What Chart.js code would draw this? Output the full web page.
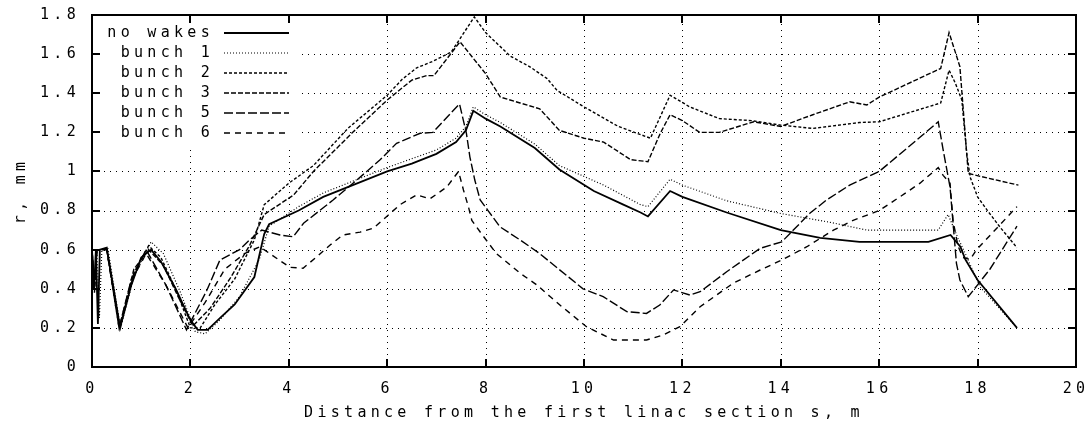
<!DOCTYPE html>
<html>
<head>
<meta charset="utf-8">
<script src="https://cdn.jsdelivr.net/npm/chart.js@4.4.0/dist/chart.umd.min.js"></script>
<style>
  html, body { margin: 0; padding: 0; background: #fff; overflow: hidden; }
  #wrap { width: 1092px; height: 430px; }
</style>
</head>
<body>
<div id="wrap"><canvas id="myChart" width="1092" height="430"></canvas></div>
<script>
// s in m, r in mm
const noWakesS = [0, 0.04, 0.08, 0.12, 0.16, 0.3, 0.57, 0.8, 1.0, 1.2, 1.4, 1.7, 2.0, 2.15, 2.35, 2.6, 2.9, 3.3, 3.5, 3.6, 4.2, 4.7, 5.3, 6.0, 6.5, 7.0, 7.4, 7.6, 7.75, 8.0, 8.3, 9.0, 9.5, 10.2, 10.8, 11.15, 11.3, 11.75, 12.0, 12.9, 14.0, 14.8, 15.6, 16.5, 17.0, 17.45, 17.65, 17.75, 18.0, 18.8];
const noWakesR = [0.6, 0.4, 0.6, 0.22, 0.6, 0.61, 0.2, 0.42, 0.56, 0.6, 0.54, 0.4, 0.24, 0.19, 0.19, 0.25, 0.32, 0.46, 0.68, 0.73, 0.8, 0.87, 0.93, 1.0, 1.04, 1.09, 1.15, 1.21, 1.31, 1.27, 1.23, 1.12, 1.01, 0.9, 0.83, 0.79, 0.77, 0.9, 0.87, 0.79, 0.7, 0.66, 0.64, 0.64, 0.64, 0.675, 0.615, 0.55, 0.445, 0.2];

const bunch1S = [0, 0.05, 0.1, 0.15, 0.2, 0.32, 0.58, 0.85, 1.2, 1.45, 1.8, 2.1, 2.3, 2.6, 3.0, 3.4, 3.6, 4.2, 4.7, 6.0, 7.0, 7.4, 7.6, 7.75, 8.0, 8.3, 9.0, 9.5, 10.4, 11.15, 11.3, 11.75, 12.0, 12.9, 14.0, 15.0, 15.75, 17.2, 17.4, 17.6, 17.75, 18.05, 18.8];
const bunch1R = [0.6, 0.4, 0.6, 0.25, 0.6, 0.61, 0.2, 0.46, 0.64, 0.58, 0.38, 0.18, 0.17, 0.24, 0.36, 0.55, 0.72, 0.82, 0.89, 1.02, 1.11, 1.17, 1.23, 1.33, 1.29, 1.25, 1.14, 1.03, 0.93, 0.83, 0.82, 0.96, 0.93, 0.85, 0.785, 0.74, 0.7, 0.7, 0.78, 0.66, 0.58, 0.41, 0.2];

const bunch2S = [0, 0.05, 0.1, 0.3, 0.57, 0.85, 1.15, 1.4, 1.7, 2.0, 2.2, 2.5, 2.9, 3.3, 3.5, 4.0, 4.5, 5.2, 6.0, 6.3, 6.6, 6.9, 7.3, 7.77, 8.0, 8.5, 8.9, 9.25, 9.45, 10.0, 10.7, 11.35, 11.75, 12.15, 12.75, 13.4, 14.0, 14.65, 15.6, 16.0, 17.25, 17.42, 17.55, 17.68, 17.78, 17.85, 18.0, 18.2, 18.45, 18.8];
const bunch2R = [0.6, 0.42, 0.6, 0.6, 0.2, 0.48, 0.62, 0.56, 0.4, 0.2, 0.2, 0.32, 0.45, 0.65, 0.83, 0.94, 1.03, 1.22, 1.39, 1.47, 1.53, 1.56, 1.61, 1.79, 1.71, 1.59, 1.535, 1.475, 1.415, 1.33, 1.23, 1.17, 1.39, 1.33, 1.27, 1.26, 1.237, 1.22, 1.25, 1.254, 1.35, 1.518, 1.45, 1.365, 1.09, 0.97, 0.87, 0.8, 0.717, 0.61];

const bunch3S = [0, 0.05, 0.1, 0.3, 0.57, 0.85, 1.15, 1.45, 1.75, 2.05, 2.4, 2.8, 3.2, 3.5, 4.1, 4.5, 5.3, 6.0, 6.5, 6.8, 6.95, 7.48, 8.0, 8.3, 8.7, 9.1, 9.5, 10.0, 10.4, 10.95, 11.3, 11.55, 11.75, 12.0, 12.35, 12.75, 13.45, 14.0, 14.65, 15.4, 15.75, 16.0, 17.25, 17.42, 17.64, 17.81, 18.05, 18.83];
const bunch3R = [0.6, 0.38, 0.6, 0.6, 0.2, 0.5, 0.6, 0.52, 0.36, 0.21, 0.3, 0.45, 0.62, 0.78, 0.88, 1.0, 1.2, 1.365, 1.467, 1.49, 1.49, 1.663, 1.5, 1.38, 1.35, 1.32, 1.21, 1.17, 1.15, 1.06, 1.05, 1.195, 1.29, 1.26, 1.2, 1.2, 1.254, 1.23, 1.29, 1.356, 1.34, 1.38, 1.527, 1.71, 1.536, 0.99, 0.975, 0.93];

const bunch5S = [0, 0.05, 0.1, 0.3, 0.55, 0.8, 1.1, 1.5, 1.92, 2.33, 2.6, 3.0, 3.2, 3.45, 3.82, 4.09, 4.3, 4.9, 5.4, 5.85, 6.19, 6.67, 6.93, 7.41, 7.47, 7.61, 7.68, 7.78, 7.89, 8.05, 8.29, 8.7, 9.1, 9.44, 9.98, 10.39, 10.87, 11.27, 11.54, 11.82, 12.15, 12.36, 12.9, 13.58, 14.02, 14.59, 14.93, 15.4, 16.0, 16.76, 17.2, 17.3, 17.44, 17.57, 17.64, 17.81, 18.0, 18.25, 18.45, 18.8];
const bunch5R = [0.6, 0.4, 0.6, 0.6, 0.2, 0.45, 0.6, 0.42, 0.19, 0.39, 0.547, 0.6, 0.65, 0.7, 0.675, 0.666, 0.735, 0.854, 0.96, 1.058, 1.144, 1.195, 1.2, 1.33, 1.345, 1.195, 1.075, 0.956, 0.854, 0.8, 0.717, 0.65, 0.58, 0.51, 0.4, 0.36, 0.283, 0.274, 0.317, 0.394, 0.368, 0.385, 0.487, 0.607, 0.64, 0.786, 0.854, 0.93, 1.0, 1.16, 1.254, 1.11, 0.92, 0.53, 0.445, 0.36, 0.42, 0.5, 0.58, 0.72];

const bunch6S = [0, 0.05, 0.1, 0.3, 0.55, 0.8, 1.1, 1.5, 1.95, 2.3, 2.7, 3.1, 3.41, 4.02, 4.29, 4.57, 4.84, 5.1, 5.45, 5.72, 5.99, 6.26, 6.6, 6.87, 7.21, 7.45, 7.55, 7.65, 7.72, 7.92, 8.22, 8.7, 9.04, 9.31, 9.51, 10.05, 10.6, 11.27, 11.61, 11.95, 12.36, 13.03, 13.58, 14.02, 14.53, 15.07, 15.47, 16.0, 16.42, 16.83, 17.2, 17.3, 17.44, 17.5, 17.6, 17.7, 17.85, 17.98, 18.8];
const bunch6R = [0.6, 0.42, 0.6, 0.6, 0.2, 0.44, 0.58, 0.42, 0.2, 0.33, 0.5, 0.58, 0.615, 0.51, 0.505, 0.564, 0.624, 0.675, 0.69, 0.71, 0.77, 0.83, 0.88, 0.86, 0.92, 1.0, 0.905, 0.82, 0.75, 0.68, 0.58, 0.48, 0.42, 0.36, 0.317, 0.206, 0.138, 0.138, 0.164, 0.206, 0.308, 0.428, 0.496, 0.547, 0.615, 0.7, 0.75, 0.8, 0.87, 0.94, 1.02, 0.98, 0.94, 0.75, 0.62, 0.56, 0.55, 0.6, 0.82];

const xTickLabels = ['0', '2', '4', '6', '8', '10', '12', '14', '16', '18', '20'];
const yTickLabels = ['0', '0.2', '0.4', '0.6', '0.8', '1', '1.2', '1.4', '1.6', '1.8'];

const FONT = "'DejaVu Sans Mono', 'Liberation Mono', monospace";
const SPACING = '4.3px';

function series(label, s, r, dash, width) {
    return {
        label: label,
        data: s.map((v, i) => ({ x: v, y: r[i] })),
        borderColor: '#000',
        borderWidth: width,
        borderDash: dash,
        pointRadius: 0,
        showLine: true,
        fill: false,
        tension: 0
    };
}

// gnuplot-ish wide letter spacing
const spacing = {
    id: 'spacing',
    beforeLayout(chart) { chart.ctx.letterSpacing = SPACING; },
    beforeDraw(chart) { chart.ctx.letterSpacing = SPACING; }
};

// dotted grid, white key box, key, frame with inward ticks
const decor = {
    id: 'decor',
    beforeDatasetsDraw(chart) {
        const ctx = chart.ctx;
        const a = chart.chartArea;
        const x = chart.scales.x;
        const y = chart.scales.y;
        ctx.save();
        ctx.strokeStyle = '#000';
        ctx.lineWidth = 1;
        ctx.setLineDash([1, 5]);
        ctx.beginPath();
        x.ticks.forEach(t => {
            const px = Math.round(x.getPixelForValue(t.value)) + 0.5;
            ctx.moveTo(px, a.bottom);
            ctx.lineTo(px, a.top);
        });
        y.ticks.forEach(t => {
            const py = Math.round(y.getPixelForValue(t.value)) + 0.5;
            ctx.moveTo(a.left, py);
            ctx.lineTo(a.right, py);
        });
        ctx.stroke();
        ctx.setLineDash([]);
        ctx.fillStyle = '#fff';
        ctx.fillRect(a.left + 1, a.top + 1, 300 - a.left, 148 - a.top);
        ctx.restore();
    },
    afterDatasetsDraw(chart) {
        const ctx = chart.ctx;
        const a = chart.chartArea;
        const x = chart.scales.x;
        const y = chart.scales.y;
        ctx.save();
        ctx.letterSpacing = SPACING;
        ctx.font = '15px ' + FONT;
        ctx.fillStyle = '#000';
        ctx.textAlign = 'right';
        ctx.textBaseline = 'middle';
        chart.data.datasets.forEach((ds, i) => {
            const yy = 33 + i * 20;
            ctx.fillText(ds.label, 214, yy);
            ctx.beginPath();
            ctx.setLineDash(ds.borderDash || []);
            ctx.lineWidth = ds.borderWidth;
            ctx.strokeStyle = '#000';
            ctx.moveTo(224, yy);
            ctx.lineTo(289, yy);
            ctx.stroke();
        });
        ctx.setLineDash([]);
        ctx.strokeStyle = '#000';
        ctx.lineWidth = 2;
        ctx.strokeRect(a.left, a.top, a.right - a.left, a.bottom - a.top);
        ctx.beginPath();
        x.ticks.forEach(t => {
            const px = Math.round(x.getPixelForValue(t.value));
            ctx.moveTo(px, a.bottom); ctx.lineTo(px, a.bottom - 8);
            ctx.moveTo(px, a.top); ctx.lineTo(px, a.top + 8);
        });
        y.ticks.forEach(t => {
            const py = Math.round(y.getPixelForValue(t.value));
            ctx.moveTo(a.left, py); ctx.lineTo(a.left + 8, py);
            ctx.moveTo(a.right, py); ctx.lineTo(a.right - 8, py);
        });
        ctx.stroke();
        ctx.restore();
    }
};

const data = {
    datasets: [
        series('no wakes', noWakesS, noWakesR, [], 1.8),
        series('bunch 1', bunch1S, bunch1R, [1, 2], 1.2),
        series('bunch 2', bunch2S, bunch2R, [3, 2], 1.4),
        series('bunch 3', bunch3S, bunch3R, [5, 2], 1.4),
        series('bunch 5', bunch5S, bunch5R, [9, 3], 1.4),
        series('bunch 6', bunch6S, bunch6R, [6, 5], 1.4)
    ]
};

const config = {
    type: 'scatter',
    data: data,
    options: {
        responsive: false,
        animation: false,
        devicePixelRatio: 1,
        layout: {
            padding: { top: 15, right: 16, left: 0, bottom: 0 }
        },
        scales: {
            x: {
                type: 'linear',
                min: 0,
                max: 20,
                afterFit: (scale) => {
                    scale.height = 63;
                    scale.paddingLeft = 0;
                    scale.paddingRight = 0;
                },
                ticks: {
                    stepSize: 2,
                    maxRotation: 0,
                    padding: 5,
                    color: '#000',
                    font: { family: FONT, size: 15 },
                    callback: (v, i) => xTickLabels[i]
                },
                grid: { display: false },
                border: { display: false },
                title: {
                    display: true,
                    text: 'Distance from the first linac section s, m',
                    color: '#000',
                    font: { family: FONT, size: 15 },
                    padding: { top: 0, bottom: 8 }
                }
            },
            y: {
                type: 'linear',
                min: 0,
                max: 1.8,
                afterFit: (scale) => {
                    scale.width = 92;
                    scale.paddingTop = 0;
                    scale.paddingBottom = 0;
                },
                ticks: {
                    stepSize: 0.2,
                    padding: 4,
                    color: '#000',
                    font: { family: FONT, size: 15 },
                    callback: (v, i) => yTickLabels[i]
                },
                grid: { display: false },
                border: { display: false },
                title: {
                    display: true,
                    text: 'r, mm',
                    color: '#000',
                    font: { family: FONT, size: 15 },
                    padding: { top: 12, bottom: 0 }
                }
            }
        },
        plugins: {
            legend: { display: false },
            tooltip: { enabled: false }
        }
    },
    plugins: [spacing, decor]
};

var myChart = new Chart(document.getElementById('myChart'), config);
</script>
</body>
</html>
